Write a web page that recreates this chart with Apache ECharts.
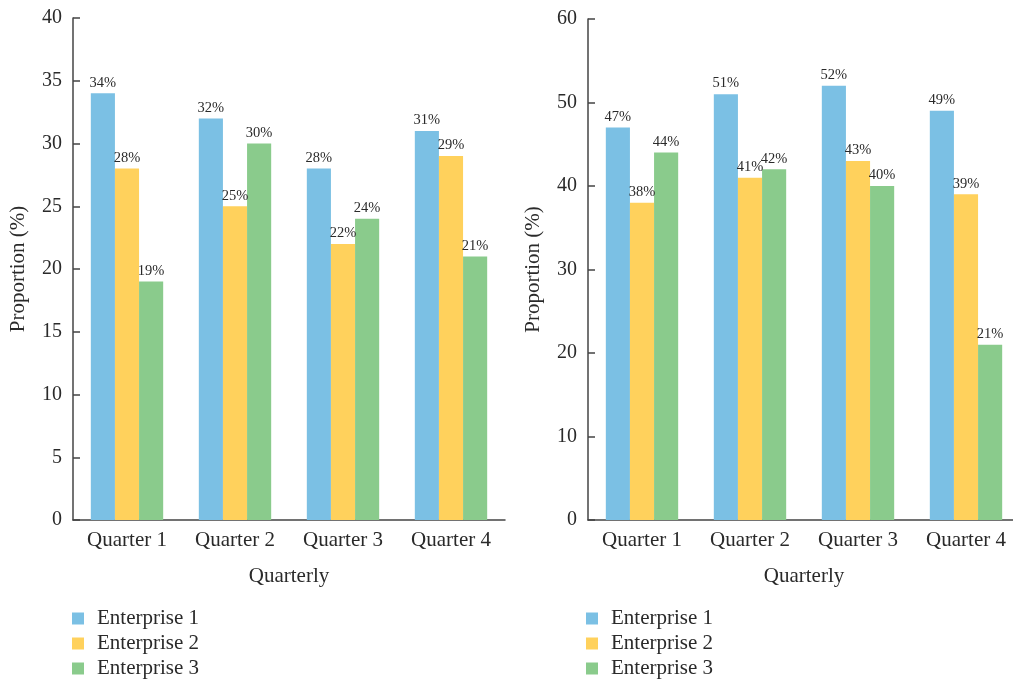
<!DOCTYPE html>
<html>
<head>
<meta charset="utf-8">
<script src="https://cdn.jsdelivr.net/npm/echarts@6/dist/echarts.min.js"></script>
<style>
  html, body { margin: 0; padding: 0; background: #fff; overflow: hidden; }
  #chart { width: 1021px; height: 679px; }
</style>
</head>
<body>
<div id="chart"></div>
<script>
// 数据
const quarters = ['Quarter 1', 'Quarter 2', 'Quarter 3', 'Quarter 4']
const enterprises = ['Enterprise 1', 'Enterprise 2', 'Enterprise 3']
// 左图
const leftE1 = [34, 32, 28, 31]
const leftE2 = [28, 25, 22, 29]
const leftE3 = [19, 30, 24, 21]
// 右图
const rightE1 = [47, 51, 52, 49]
const rightE2 = [38, 41, 43, 39]
const rightE3 = [44, 42, 40, 21]

const colors = ['#7bc0e4', '#ffd15c', '#8acb8c']
const font = '"Liberation Serif", "DejaVu Serif", serif'
const textColor = '#2a2a2a'

const xAxisOf = (gridIndex) => ({
  type: 'category',
  gridIndex,
  data: quarters,
  name: 'Quarterly',
  nameLocation: 'middle',
  nameGap: 46,
  nameTextStyle: { fontFamily: font, fontSize: 21, color: textColor },
  axisLine: { lineStyle: { color: '#444', width: 1.5 } },
  axisTick: { inside: true, length: 7, lineStyle: { color: '#444', width: 1.5 } },
  axisLabel: { fontFamily: font, fontSize: 21, color: textColor, margin: 10 }
})

const yAxisOf = (gridIndex, max, interval) => ({
  type: 'value',
  gridIndex,
  min: 0,
  max,
  interval,
  name: 'Proportion (%)',
  nameLocation: 'middle',
  nameGap: 44,
  nameTextStyle: { fontFamily: font, fontSize: 21, color: textColor },
  axisLine: { show: true, lineStyle: { color: '#444', width: 1.5 } },
  axisTick: { show: true, inside: true, length: 7, lineStyle: { color: '#444', width: 1.5 } },
  axisLabel: { fontFamily: font, fontSize: 20, color: textColor, margin: 11 },
  splitLine: { show: false }
})

const barOf = (name, data, idx) => ({
  name,
  type: 'bar',
  xAxisIndex: idx,
  yAxisIndex: idx,
  data,
  barGap: '0%',
  barCategoryGap: '33%',
  itemStyle: { color: colors[enterprises.indexOf(name)] },
  label: {
    show: true,
    position: 'top',
    distance: 3,
    formatter: '{c}%',
    fontFamily: font,
    fontSize: 14.5,
    color: textColor
  }
})

const legendOf = (left) => ({
  data: enterprises,
  orient: 'vertical',
  left,
  top: 603,
  height: 80,
  itemWidth: 12,
  itemHeight: 12,
  itemGap: 4,
  icon: 'rect',
  textStyle: { fontFamily: font, fontSize: 21, color: textColor, padding: [0, 0, 0, 8] }
})

const myChart = echarts.init(document.getElementById('chart'))
const option = {
  animation: false,
  color: colors,
  legend: [legendOf(67), legendOf(581)],
  grid: [
    { left: 73, top: 18, width: 432, bottom: 159 },
    { left: 588, top: 19, width: 432, bottom: 159 }
  ],
  xAxis: [xAxisOf(0), xAxisOf(1)],
  yAxis: [yAxisOf(0, 40, 5), yAxisOf(1, 60, 10)],
  series: [
    barOf('Enterprise 1', leftE1, 0),
    barOf('Enterprise 2', leftE2, 0),
    barOf('Enterprise 3', leftE3, 0),
    barOf('Enterprise 1', rightE1, 1),
    barOf('Enterprise 2', rightE2, 1),
    barOf('Enterprise 3', rightE3, 1)
  ]
}
myChart.setOption(option)
window.addEventListener('resize', () => {
  myChart.resize()
})
</script>
</body>
</html>
